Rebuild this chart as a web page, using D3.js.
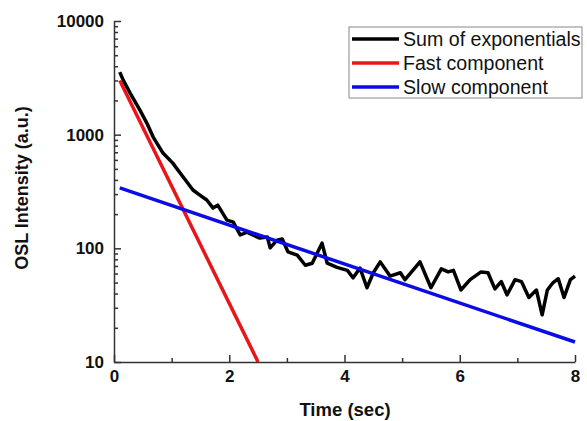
<!DOCTYPE html>
<html>
<head>
<meta charset="utf-8">
<script src="https://cdn.jsdelivr.net/npm/d3@7"></script>
<style>
  body{margin:0;background:#fff;}
  svg{font-family:"Liberation Sans",Arial,sans-serif;}
</style>
</head>
<body>
<div id="chart"></div>
<script>
// measured OSL decay (black noisy curve)
const sumTime=[0.1,0.16,0.28,0.45,0.57,0.68,0.85,1.02,1.2,1.37,1.49,1.61,1.72,1.8,1.96,2.07,2.19,2.31,2.41,2.53,2.66,2.71,2.83,2.92,
  3.02,3.18,3.32,3.44,3.61,3.7,3.87,4.05,4.15,4.27,4.39,4.5,4.62,4.79,4.97,5.05,5.31,5.5,5.68,5.8,5.89,
  6.02,6.18,6.37,6.49,6.61,6.72,6.82,6.96,7.07,7.2,7.33,7.43,7.52,7.62,7.71,7.81,7.92,8.0];
const sumValue=[3550,3020,2320,1645,1265,953,689,562,424,326,294,266,226,240,177,170,131,139,131,123,126,101,118,121,
  93,87,71,74,111,74,68,64,55,67,45,61,76,57,61,53,76,45,66,62,64,
  43,53,62,61,44,51,39,53,51,37,43,26,43,50,54,37,53,57];
// fitted components (straight on log axis)
const fastTime=[0.1,2.5], fastValue=[3000,10];
const slowTime=[0.1,8], slowValue=[340,15];

const legendLabels=["Sum of exponentials","Fast component","Slow component"];
const colors=["#000000","#e8161b","#0b0be8"];
const xMajor=[0,2,4,6,8], xMinor=[1,3,5,7];
const yMajor=[10,100,1000,10000];

const width=587,height=421;
const svg=d3.select("#chart").append("svg").attr("width",width).attr("height",height);

const x=d3.scaleLinear().domain([0,8]).range([114,575]);
const y=d3.scaleLog().domain([10,10000]).range([362,21]);

const yMinor=[];
[10,100,1000].forEach(function(d){for(let k=2;k<10;k++) yMinor.push(d*k);});

// series
const series=[
  {t:sumTime,v:sumValue},
  {t:fastTime,v:fastValue},
  {t:slowTime,v:slowValue}
];
const line=d3.line().x(d=>x(d[0])).y(d=>y(d[1]));
series.forEach(function(s,i){
  svg.append("path")
    .datum(s.t.map((t,j)=>[t,s.v[j]]))
    .attr("d",line)
    .attr("fill","none")
    .attr("stroke",colors[i])
    .attr("stroke-width",3.5)
    .attr("stroke-linejoin","round");
});

// axes
const axisColor="#333";
function styleAxis(g){
  g.selectAll("path,line").attr("stroke",axisColor).attr("stroke-width",1.5);
  g.selectAll("text").attr("fill","#111").attr("font-size",17).attr("font-weight","bold")
   .attr("font-family","'Liberation Sans',Arial,sans-serif");
}
const yAxis=svg.append("g").attr("transform","translate("+x(0)+",0)")
  .call(d3.axisLeft(y).tickValues(yMajor).tickFormat(d3.format("d")).tickSizeInner(-7).tickSizeOuter(0).tickPadding(10));
styleAxis(yAxis);
const yAxisMinor=svg.append("g").attr("transform","translate("+x(0)+",0)")
  .call(d3.axisLeft(y).tickValues(yMinor).tickFormat("").tickSizeInner(-4).tickSizeOuter(0));
yAxisMinor.select(".domain").remove();
styleAxis(yAxisMinor);

const xAxis=svg.append("g").attr("transform","translate(0,"+y(10)+")")
  .call(d3.axisBottom(x).tickValues(xMajor).tickFormat(d3.format("d")).tickSizeInner(-7).tickSizeOuter(0).tickPadding(8));
styleAxis(xAxis);
const xAxisMinor=svg.append("g").attr("transform","translate(0,"+y(10)+")")
  .call(d3.axisBottom(x).tickValues(xMinor).tickFormat("").tickSizeInner(-4).tickSizeOuter(0));
xAxisMinor.select(".domain").remove();
styleAxis(xAxisMinor);

// axis titles
svg.append("text").attr("x",345).attr("y",416).attr("text-anchor","middle")
  .attr("font-size",18.5).attr("font-weight","bold").attr("fill","#111").text("Time (sec)");
svg.append("text").attr("transform","translate(28,188) rotate(-90)").attr("text-anchor","middle")
  .attr("font-size",18).attr("font-weight","bold").attr("fill","#111").text("OSL Intensity (a.u.)");

// legend
const legend=svg.append("g").attr("transform","translate(349,27)");
legend.append("rect").attr("width",233).attr("height",71)
  .attr("fill","#fff").attr("stroke","#888").attr("stroke-width",1);
legendLabels.forEach(function(lbl,i){
  const yy=12+i*24;
  legend.append("line").attr("x1",3).attr("x2",50).attr("y1",yy).attr("y2",yy)
    .attr("stroke",colors[i]).attr("stroke-width",3.5);
  legend.append("text").attr("x",54).attr("y",yy+7).attr("font-size",19.6).attr("fill","#111").text(lbl);
});
</script>
</body>
</html>
